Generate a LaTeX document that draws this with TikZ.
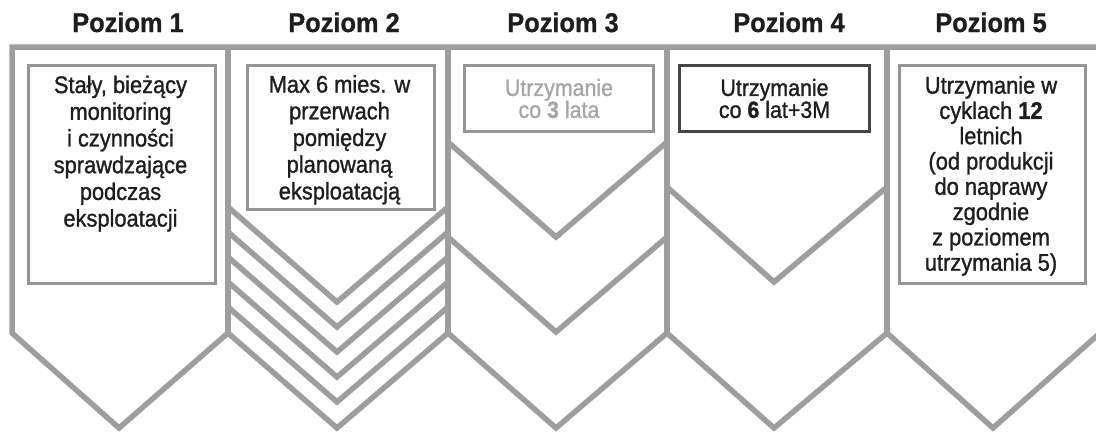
\documentclass[tikz,border=0pt]{standalone}
\usepackage{fontspec}
\setmainfont{Liberation Sans}
\newfontfamily\bodyfont{Liberation Sans}[FakeStretch=0.91, FakeBold=1.2]
\newfontfamily\hdrfont{Liberation Sans}[FakeStretch=0.94, FakeBold=0.8]
\definecolor{lineg}{HTML}{9E9E9E}
\definecolor{boxg}{HTML}{959595}
\definecolor{boxd}{HTML}{454545}
\definecolor{txtg}{HTML}{A6A6A6}
\definecolor{txtk}{HTML}{1E1E1E}
\begin{document}
\begin{tikzpicture}[x=1pt,y=-1pt,
  frame/.style={draw=lineg, line width=5.5pt, line join=miter},
  box/.style={draw=boxg, line width=3pt, anchor=north west, inner sep=0pt},
  darkbox/.style={box, draw=boxd},
  hdr/.style={anchor=base, font=\hdrfont\fontsize{27}{30}\selectfont\bfseries, text=txtk, inner sep=0pt},
  body/.style={anchor=north, align=center, inner sep=0pt, text=txtk, font=\bodyfont\fontsize{24}{26.7}\selectfont},
  shortbody/.style={align=center, font=\bodyfont\fontsize{23.5}{22}\selectfont},
]
\useasboundingbox (0,0) rectangle (1096,432);
\begin{scope}
\clip (0,0) rectangle (1096,432);
% frame
\draw[frame] (228,333) -- (119,428) -- (12,333) -- (12,47) -- (1100,47);
\foreach \x in {228,448,667,887,1100} \draw[frame] (\x,47) -- (\x,333);
% column 2 chevrons
\foreach \s in {207,232,257,282,307,333} \draw[frame] (228,\s) -- (337,\s+95) -- (448,\s);
% column 3 chevrons
\foreach \s in {142,237,333} \draw[frame] (448,\s) -- (556,\s+95) -- (667,\s);
% column 4 chevrons
\foreach \s in {187,333} \draw[frame] (667,\s) -- (774,\s+95) -- (887,\s);
% column 5 chevron
\draw[frame] (887,333) -- (993,428) -- (1100,333);
\end{scope}
% headers
\node[hdr] (h1) at (128,32) {Poziom 1};
\node[hdr] (h2) at (344,32) {Poziom 2};
\node[hdr] (h3) at (563,32) {Poziom 3};
\node[hdr] (h4) at (789,32) {Poziom 4};
\node[hdr] (h5) at (991,32) {Poziom 5};
% boxes
\node[box, minimum width=187pt, minimum height=218pt] (b1) at (27,64) {};
\node[body] (t1) at (120.5,75.5) {Stały, bieżący\\monitoring\\i czynności\\sprawdzające\\podczas\\eksploatacji};
\node[box, minimum width=187pt, minimum height=144pt] (b2) at (246,64) {};
\node[body] (t2) at (339.5,75) {Max 6 mies. w\\przerwach\\pomiędzy\\planowaną\\eksploatacją};
\node[box, shortbody, text=txtg, minimum width=189pt, minimum height=66pt] (b3) at (463,64) {Utrzymanie\\co \textbf{3} lata};
\node[darkbox, shortbody, text=txtk, minimum width=190pt, minimum height=66pt] (b4) at (678,64) {Utrzymanie\\co \textbf{6} lat+3M};
\node[box, minimum width=186pt, minimum height=218pt] (b5) at (898,64) {};
\node[body, font=\bodyfont\fontsize{24}{25.3}\selectfont] (t5) at (991,76) {Utrzymanie w\\cyklach \textbf{12}\\letnich\\(od produkcji\\do naprawy\\zgodnie\\z poziomem\\utrzymania 5)};
\end{tikzpicture}
\end{document}
